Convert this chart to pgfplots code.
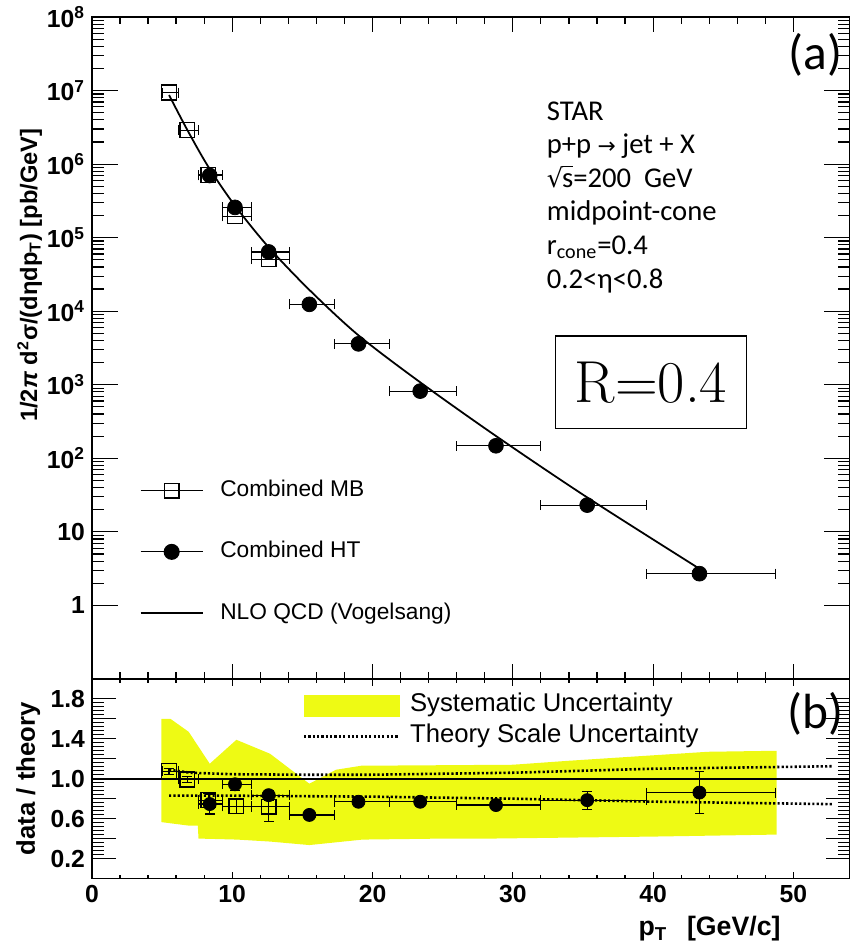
\documentclass[border=0pt]{standalone}
\usepackage{fontspec}
\usepackage{pgfplots}
\usepackage{pgfplotstable}
\pgfplotsset{compat=1.18}
\newfontfamily\arial{Liberation Sans}
\newfontfamily\calib{Carlito}
\newfontfamily\dejavu{DejaVu Sans}
\definecolor{sysyel}{RGB}{238,250,20}
\tikzset{thdot/.style={black, line width=1.3pt, dash pattern=on 1.1pt off 1.1pt}}

% top panel: cross sections
\pgfplotstableread{
x    y       exm  exp
5.5  9.4e6   0.5  0.7
6.8  2.9e6   0.6  0.8
8.3  7.1e5   0.7  1.0
10.2 1.95e5  0.9  1.2
12.6 5.1e4   1.2  1.5
}\mbtop
\pgfplotstableread{
x    y       exm  exp  ey
8.4  7.0e5   0.8  0.9  0
10.2 2.58e5  0.9  1.2  0
12.6 6.4e4   1.2  1.5  0
15.5 1.24e4  1.4  1.8  0
19.0 3.6e3   1.7  2.2  0
23.4 8.2e2   2.2  2.6  0
28.8 1.48e2  2.8  3.2  0
35.3 23.1    3.3  4.2  1.5
43.3 2.7     3.8  5.4  0.4
}\httop
\pgfplotstableread{
x    y
5.5  8.7e6
6.8  2.92e6
8.3  9.2e5
10.2 2.72e5
12.6 7.4e4
15.5 1.95e4
19.0 4.7e3
23.4 1.08e3
28.8 201
35.3 29.4
43.3 3.15
}\nlo

% bottom panel: data / theory
\pgfplotstableread{
x    y      exm  exp  ey
5.5  1.076  0.5  0.7  0.03
6.8  0.993  0.6  0.8  0.03
8.3  0.785  0.7  1.0  0.07
10.3 0.723  1.0  1.1  0.07
12.6 0.72   1.2  1.5  0.15
}\mbrat
\pgfplotstableread{
x    y      exm  exp  ey
8.4  0.746  0.8  0.9  0.10
10.2 0.944  0.9  1.2  0.06
12.6 0.835  1.2  1.5  0.05
15.5 0.637  1.4  1.8  0.03
19.0 0.769  1.7  2.2  0.03
23.4 0.769  2.2  2.6  0.03
28.8 0.736  2.8  3.2  0.03
35.3 0.785  3.3  4.2  0.09
43.3 0.861  3.8  5.4  0.21
}\htrat

\begin{document}
\begin{tikzpicture}
\pgfplotsset{
  every axis/.append style={
    scale only axis, width=383.5pt, xmin=0, xmax=54,
    axis line style={line width=0.8pt},
    every tick/.style={line width=0.6pt, black},
    tick align=inside, xtick pos=both, ytick pos=both,
    xtick={0,10,20,30,40,50}, minor x tick num=4,
    tick label style={font=\arial\bfseries\fontsize{12.5}{14}\selectfont},
    label style={font=\arial\bfseries\fontsize{13}{15}\selectfont},
    error bars/error bar style={line width=0.6pt, black},
    error bars/error mark options={rotate=90, line width=0.6pt, mark size=2.5pt},
  },
  mbstyle/.style={only marks, mark=square, mark size=3.75pt, mark options={black, line width=0.7pt}},
  htstyle/.style={only marks, mark=*, mark size=3.75pt, mark options={black}},
}
\begin{axis}[
  name=top, height=335pt,
  ymode=log, ymin=0.1, ymax=1e8,
  ytickten={0,...,8},
  yticklabels={1,10,10\textsuperscript{2},10\textsuperscript{3},10\textsuperscript{4},10\textsuperscript{5},10\textsuperscript{6},10\textsuperscript{7},10\textsuperscript{8}},
  yticklabel pos=left,
  xticklabels={},
  xtick style={/pgfplots/major tick length=7.5pt, /pgfplots/minor tick length=3.5pt},
  ytick style={/pgfplots/major tick length=13pt, /pgfplots/minor tick length=6pt},
  ylabel={1/2\textit{π} d\textsuperscript{2}σ/(dηdp\textsubscript{T}) [pb/GeV]},
  ylabel style={at={(axis description cs:-0.082,0.61)}, anchor=center, font=\arial\bfseries\fontsize{12}{14}\selectfont},
  legend image code/.code={\draw[mark repeat=2,mark phase=2] plot coordinates {(0pt,0pt) (15.75pt,0pt) (31.5pt,0pt)};},
  legend style={at={(axis description cs:0.055,0.309)}, anchor=north west, draw=none, fill=none,
    font=\arial\fontsize{11.5}{13}\selectfont, row sep=19pt, column sep=8.5pt,
    nodes={inner sep=0pt, text height=9pt, text depth=3pt}},
  legend cell align=left,
]
\addlegendimage{black, line width=0.6pt, mark=square, mark size=3.75pt}
\addlegendentry{Combined MB}
\addlegendimage{black, line width=0.6pt, mark=*, mark size=3.75pt}
\addlegendentry{Combined HT}
\addlegendimage{black, line width=0.7pt}
\addlegendentry{NLO QCD (Vogelsang)}

\addplot[black, line width=0.9pt, smooth, forget plot] table[x=x, y=y] {\nlo};
\addplot[mbstyle, forget plot, error bars/.cd, x dir=both, x explicit]
  table[x=x, y=y, x error plus=exp, x error minus=exm] {\mbtop};
\addplot[htstyle, forget plot, error bars/.cd, x dir=both, x explicit, y dir=minus, y explicit]
  table[x=x, y=y, x error plus=exp, x error minus=exm, y error=ey] {\httop};

\node[anchor=north west, align=left, inner sep=0pt, font=\calib\fontsize{14.5}{17}\selectfont]
  at (rel axis cs:0.6,0.873)
  {STAR\\p+p {\dejavu\fontsize{11}{13}\selectfont →} jet + X\\{\dejavu\fontsize{13}{15}\selectfont √}\kern-0.6pt\vbox{\hrule height 0.6pt\kern3.2pt\hbox{s}}=200~ GeV\\midpoint-cone\\r\textsubscript{cone}=0.4\\0.2<η<0.8};
\node[font=\calib\fontsize{25}{27}\selectfont] at (rel axis cs:0.955,0.943) {(a)};
\node[draw, line width=0.6pt, minimum width=97pt, minimum height=47pt, inner sep=0pt,
  font=\rmfamily\fontsize{30}{31}\selectfont] at (rel axis cs:0.738,0.448) {R=0.4};
\end{axis}

\begin{axis}[
  name=bot, at={(top.south west)}, anchor=north west, height=101pt,
  ymin=0, ymax=2,
  ytick={0.2,0.4,0.6,0.8,1.0,1.2,1.4,1.6,1.8},
  yticklabels={0.2,,0.6,,1.0,,1.4,,1.8},
  minor y tick num=4,
  yticklabel pos=left, xticklabel pos=bottom,
  xticklabels={0,10,20,30,40,50},
  xtick style={/pgfplots/major tick length=3.5pt, /pgfplots/minor tick length=2pt},
  ytick style={/pgfplots/major tick length=12pt, /pgfplots/minor tick length=6pt},
  ylabel={data / theory},
  ylabel style={at={(axis description cs:-0.084,0.5)}, anchor=center},
  xlabel={p\textsubscript{T}\hspace{10pt}[GeV/c]},
  xlabel style={at={(ticklabel cs:0.918)}, anchor=north east, font=\arial\bfseries\fontsize{13.5}{15}\selectfont},
  legend style={at={(axis description cs:0.27,0.946)}, anchor=north west, draw=none, fill=none,
    font=\arial\fontsize{13}{15}\selectfont, row sep=3.5pt, column sep=5pt,
    nodes={inner sep=0pt, text height=9pt, text depth=3pt}},
  legend cell align=left,
]
\addlegendimage{legend image code/.code={\fill[sysyel] (0pt,-5.5pt) rectangle (48pt,5.5pt);}}
\addlegendentry{Systematic Uncertainty}
\addlegendimage{legend image code/.code={\draw[thdot] (0pt,0pt) -- (48pt,0pt);}}
\addlegendentry{Theory Scale Uncertainty}

\addplot[fill=sysyel, draw=none, forget plot] coordinates {
  (4.95,1.60) (5.6,1.60) (6.9,1.47) (8.4,1.15) (10.3,1.39) (12.7,1.25)
  (15.5,0.95) (17.4,1.09) (19.2,1.13) (30,1.14) (34,1.18) (43.9,1.27) (48.8,1.28)
  (48.8,0.44) (40,0.42) (28.4,0.40) (25.1,0.40) (19.3,0.39) (15.5,0.335)
  (12.7,0.37) (10.35,0.39) (7.6,0.40) (7.55,0.53) (6.9,0.53) (4.95,0.565)
} -- cycle;
\addplot[thdot, forget plot] coordinates {
  (5.5,1.09) (7,1.06) (10,1.045) (15,1.04) (20,1.04) (25,1.05) (30,1.06) (40,1.10) (52.8,1.125)
};
\addplot[thdot, forget plot] coordinates {
  (5.5,0.83) (10,0.83) (20,0.82) (30,0.80) (40,0.77) (52.8,0.745)
};
\addplot[black, line width=0.8pt, forget plot] coordinates {(0,1) (54,1)};
\addplot[mbstyle, forget plot, error bars/.cd, x dir=both, x explicit, y dir=both, y explicit]
  table[x=x, y=y, x error plus=exp, x error minus=exm, y error=ey] {\mbrat};
\addplot[htstyle, mark size=3.3pt, forget plot, error bars/.cd, x dir=both, x explicit, y dir=both, y explicit]
  table[x=x, y=y, x error plus=exp, x error minus=exm, y error=ey] {\htrat};

\node[font=\calib\fontsize{25}{27}\selectfont] at (rel axis cs:0.955,0.827) {(b)};
\end{axis}
\path ([shift={(-46.5pt,7.5pt)}]top.north west) rectangle ([shift={(5pt,-30.5pt)}]bot.south east);
\end{tikzpicture}
\end{document}
